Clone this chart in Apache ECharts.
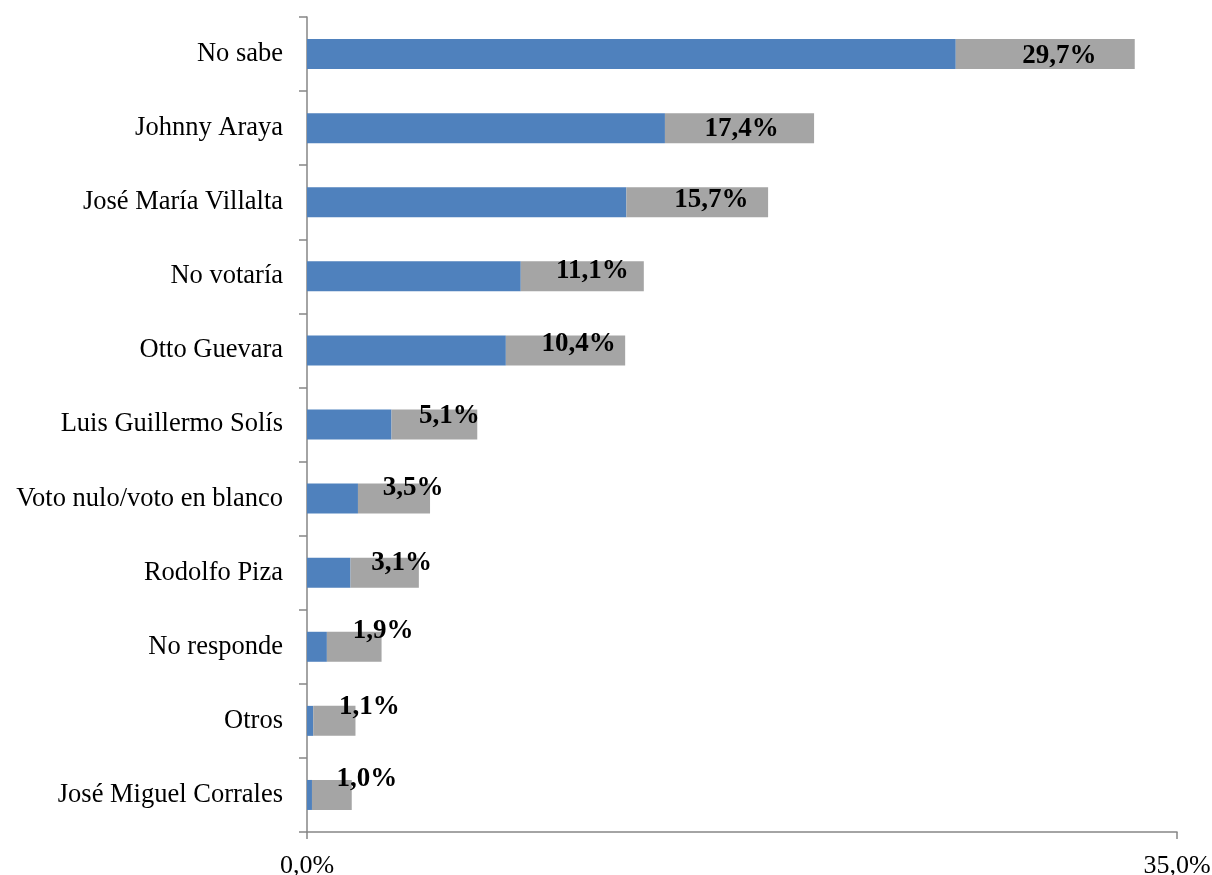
<!DOCTYPE html>
<html>
<head>
<meta charset="utf-8">
<script src="https://cdn.jsdelivr.net/npm/echarts@6/dist/echarts.min.js"></script>
<style>html,body{margin:0;padding:0;background:#fff;}#c{width:1212px;height:875px;}</style>
</head>
<body>
<div id="c"></div>
<script>
const categories = ["No sabe","Johnny Araya","José María Villalta","No votaría","Otto Guevara","Luis Guillermo Solís","Voto nulo/voto en blanco","Rodolfo Piza","No responde","Otros","José Miguel Corrales"];
const lowerBound = [26.1,14.4,12.85,8.6,8.0,3.4,2.05,1.75,0.8,0.25,0.2];
const bandWidth = [7.2,6.0,5.7,4.95,4.8,3.45,2.9,2.75,2.2,1.7,1.6];
const labelValues = [29.7,17.4,15.7,11.1,10.4,5.1,3.5,3.1,1.9,1.1,1.0];
const xTicks = [0,35];

// label offsets (style only)
const labelOffsets = [[14,2],[2,1],[14,-2],[10,-5],[13,-6],[15,-8],[19,-11],[17,-10],[29,-16],[35,-14],[35,-16]];

const fmt = v => v.toFixed(1).replace('.', ',') + '%';
const font = "'Liberation Serif','Times New Roman',serif";

const chart = echarts.init(document.getElementById('c'));
chart.setOption({
  animation: false,
  grid: {left: 307, right: 35, top: 17, bottom: 43, containLabel: false, outerBoundsMode: 'none'},
  xAxis: {
    type: 'value', min: xTicks[0], max: xTicks[1], interval: xTicks[1]-xTicks[0],
    splitLine: {show: false},
    axisLine: {show: true, lineStyle: {color: '#868686', width: 1.5}},
    axisTick: {show: true, length: 7, lineStyle: {color: '#868686', width: 1.5}},
    axisLabel: {formatter: v => fmt(v), color: '#000', fontFamily: font, fontSize: 26, margin: 21}
  },
  yAxis: {
    type: 'category', data: categories, inverse: true,
    axisLine: {show: true, lineStyle: {color: '#868686', width: 1.5}},
    axisTick: {show: true, length: 8, lineStyle: {color: '#868686', width: 1.5}},
    axisLabel: {color: '#000', fontFamily: font, fontSize: 26.5, margin: 24}
  },
  series: [
    {type: 'bar', stack: 's', data: lowerBound, barWidth: 30, itemStyle: {color: '#4F81BD'}, silent: true},
    {type: 'bar', stack: 's', barWidth: 30, itemStyle: {color: '#A5A5A5'},
     data: bandWidth.map((v, i) => ({value: v, label: {offset: labelOffsets[i]}})),
     label: {show: true, position: 'inside', formatter: p => fmt(labelValues[p.dataIndex]),
       color: '#000', fontWeight: 'bold', fontFamily: font, fontSize: 27}}
  ]
});
</script>
</body>
</html>
